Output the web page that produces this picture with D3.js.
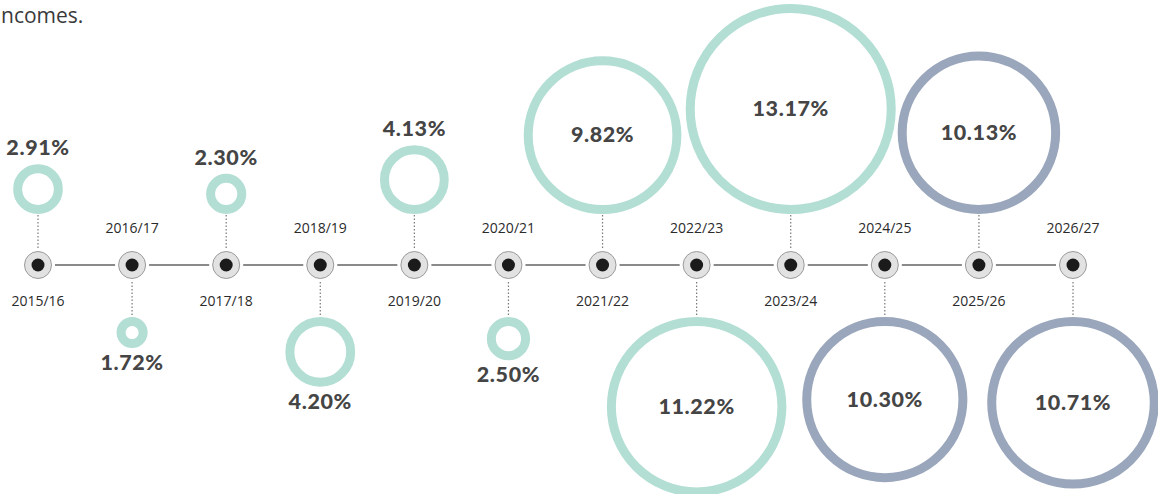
<!DOCTYPE html>
<html>
<head>
<meta charset="utf-8">
<script src="https://cdn.jsdelivr.net/npm/d3@7"></script>
<style>
  html, body { margin: 0; padding: 0; background: #fff; overflow: hidden; }
  svg { display: block; }
</style>
</head>
<body>
<svg id="chart" width="1158" height="494"></svg>
<script>
// Annual growth rate per financial year
const years = ["2015/16", "2016/17", "2017/18", "2018/19", "2019/20", "2020/21",
               "2021/22", "2022/23", "2023/24", "2024/25", "2025/26", "2026/27"];
const rates = [2.91, 1.72, 2.30, 4.20, 4.13, 2.50, 9.82, 11.22, 13.17, 10.30, 10.13, 10.71];
// Years from this one onwards are projections
const projectedYears = ["2024/25", "2025/26", "2026/27"];

const axisY = 265;
const colActual = "#b2ded3";
const colProjected = "#9aa6bb";

const svg = d3.select("#chart");

// End of the preceding sentence
svg.append("text")
  .attr("x", 1).attr("y", 23)
  .attr("font-family", "'Open Sans', sans-serif")
  .attr("font-size", 21)
  .attr("fill", "#3a3a3a")
  .text("ncomes.");

const x = d3.scalePoint().domain(years).range([38, 1073]);
const r = d3.scaleLinear().domain([0, d3.max(rates)]).range([2.1, 105]);

const data = years.map((y, i) => ({
  year: y,
  rate: rates[i],
  up: i % 2 === 0,
  projected: projectedYears.includes(y)
}));

const ringW = 9;
const aboveBottom = 214;   // lower edge of rings above the timeline
const belowTop = 317;      // upper edge of rings below the timeline

data.forEach(d => {
  d.cx = x(d.year);
  d.R = r(d.rate);
  d.cy = d.up ? aboveBottom - d.R : belowTop + d.R;
});

// Connecting segments between nodes
svg.append("g").selectAll("line").data(d3.pairs(data)).join("line")
  .attr("x1", p => p[0].cx + 17)
  .attr("x2", p => p[1].cx - 17)
  .attr("y1", axisY).attr("y2", axisY)
  .attr("stroke", "#8a8a8a").attr("stroke-width", 2);

// Dotted leaders from node to ring
svg.append("g").selectAll("line").data(data).join("line")
  .attr("x1", d => d.cx).attr("x2", d => d.cx)
  .attr("y1", d => d.up ? axisY - 17 : axisY + 17)
  .attr("y2", d => d.up ? aboveBottom : belowTop)
  .attr("stroke", "#777").attr("stroke-width", 1.2)
  .attr("stroke-dasharray", "1.5,2");

// Rings sized by rate
svg.append("g").selectAll("circle").data(data).join("circle")
  .attr("cx", d => d.cx).attr("cy", d => d.cy)
  .attr("r", d => d.R - ringW / 2)
  .attr("fill", "none")
  .attr("stroke", d => d.projected ? colProjected : colActual)
  .attr("stroke-width", ringW);

// Timeline nodes
const nodes = svg.append("g").selectAll("g").data(data).join("g")
  .attr("transform", d => `translate(${d.cx},${axisY})`);
nodes.append("circle").attr("r", 13.5)
  .attr("fill", "#e2e2e2").attr("stroke", "#9a9a9a").attr("stroke-width", 1);
nodes.append("circle").attr("r", 6.5).attr("fill", "#1b1b1b");

// Year labels, on the opposite side from each ring
svg.append("g").selectAll("text").data(data).join("text")
  .attr("x", d => d.cx)
  .attr("y", d => d.up ? axisY + 41 : axisY - 32)
  .attr("text-anchor", "middle")
  .attr("font-family", "'Open Sans', sans-serif")
  .attr("font-size", 14)
  .attr("fill", "#2b2b2b")
  .text(d => d.year);

// Rate labels: inside large rings, outside small ones
const fmt = d3.format(".2f");
svg.append("g").selectAll("text").data(data).join("text")
  .attr("x", d => d.cx)
  .attr("y", d => {
    if (d.rate >= 5) return d.cy + 7;
    return d.up ? d.cy - d.R - 9 : d.cy + d.R + 22;
  })
  .attr("text-anchor", "middle")
  .attr("font-family", "Lato, sans-serif")
  .attr("font-weight", 900)
  .attr("font-size", 21.5)
  .attr("letter-spacing", 0.6)
  .attr("fill", "#454545")
  .text(d => fmt(d.rate) + "%");
</script>
</body>
</html>
